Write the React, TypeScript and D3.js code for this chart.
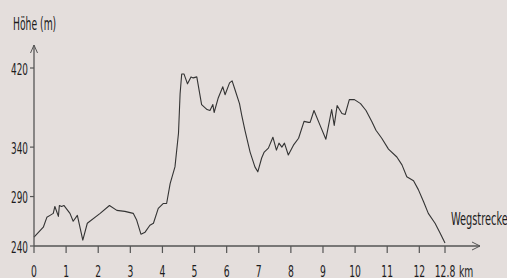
import * as d3 from "d3";

// elevation profile
const distanceKm = [
  0, 0.29, 0.4, 0.5, 0.6, 0.65, 0.76, 0.79, 0.86, 0.93, 1.12, 1.22, 1.35, 1.52,
  1.66, 2.06, 2.35, 2.58, 2.83, 3.09, 3.2, 3.33, 3.46, 3.61, 3.72, 3.87, 4.03,
  4.13, 4.24, 4.39, 4.5, 4.55, 4.6, 4.67, 4.78, 4.89, 4.96, 5.07, 5.22, 5.39,
  5.48, 5.57, 5.61, 5.74, 5.88, 5.95, 6.09, 6.17, 6.26, 6.4, 6.47, 6.57, 6.73,
  6.88, 6.97, 7.09, 7.17, 7.3, 7.44, 7.55, 7.63, 7.72, 7.8, 7.92, 8.08, 8.24,
  8.41, 8.55, 8.6, 8.72, 8.91, 9.09, 9.27, 9.35, 9.44, 9.59, 9.69, 9.82, 9.98,
  10.17, 10.34, 10.52, 10.65, 10.83, 11.04, 11.3, 11.46, 11.61, 11.82, 11.97,
  12.13, 12.28, 12.49, 12.65, 12.8,
];
const elevationM = [
  249, 259, 269, 271, 273, 280, 270, 281, 280, 281, 273, 265, 271, 246, 263, 273,
  281, 276, 275, 273, 266, 252, 254, 261, 263, 278, 283, 283, 303, 320, 354, 394,
  414, 414, 404, 411, 410, 411, 383, 378, 377, 383, 375, 390, 401, 393, 405, 407,
  398, 384, 372, 357, 335, 320, 315, 329, 335, 339, 350, 337, 344, 340, 344, 332,
  342, 349, 366, 365, 365, 377, 362, 348, 378, 362, 382, 374, 373, 388, 388, 384,
  377, 366, 357, 349, 338, 330, 322, 310, 306, 297, 285, 273, 263, 253, 243,
];

const xTicks = [0, 1, 2, 3, 4, 5, 6, 7, 8, 9, 10, 11, 12, 12.8];
const xTickLabels = ["0", "1", "2", "3", "4", "5", "6", "7", "8", "9", "10", "11", "12", "12.8"];
const yTicks = [240, 290, 340, 420];

const FONT = "'DejaVu Sans Condensed', 'DejaVu Sans', sans-serif";

export default function App() {
  const width = 507;
  const height = 278;

  const x = d3.scaleLinear().domain([0, 12.8]).range([34, 445]);
  const y = d3.scaleLinear().domain([240, 420]).range([246, 68]);

  const x0 = x(0);
  const y0 = y(240);

  const points = distanceKm.map((d, i) => [d, elevationM[i]] as [number, number]);
  const line = d3
    .line<[number, number]>()
    .x((d) => x(d[0]))
    .y((d) => y(d[1]));

  const axisColor = "#555";
  const textColor = "#1c1c1c";

  return (
    <svg
      width={width}
      height={height}
      style={{ position: "absolute", left: 0, top: 0, display: "block" }}
      fontFamily={FONT}
    >
      <rect width={width} height={height} fill="#e4dedc" />

      {/* profile line */}
      <path d={line(points) || ""} fill="none" stroke="#333" strokeWidth={1.1} strokeLinejoin="round" />

      {/* y axis */}
      <line x1={x0} y1={y0} x2={x0} y2={45} stroke={axisColor} strokeWidth={1.3} />
      <path d={`M${x0 - 3.5},${53} L${x0},${45} L${x0 + 3.5},${53}`} fill="none" stroke={axisColor} strokeWidth={1} />
      {yTicks.map((t) => (
        <g key={t}>
          <line x1={x0 - 4} x2={x0} y1={y(t)} y2={y(t)} stroke={axisColor} strokeWidth={1.2} />
          <text
            transform={`translate(${x0 - 6},${y(t) + 6.5}) scale(0.66,1)`}
            textAnchor="end"
            fontSize={15}
            fill={textColor}
          >
            {t}
          </text>
        </g>
      ))}

      {/* x axis */}
      <line x1={x0} y1={y0} x2={480} y2={y0} stroke={axisColor} strokeWidth={1.3} />
      <path d={`M${472},${y0 - 4} L${480},${y0} L${472},${y0 + 4}`} fill="none" stroke={axisColor} strokeWidth={1} />
      {xTicks.map((t, i) => (
        <g key={t}>
          <line x1={x(t)} x2={x(t)} y1={y0} y2={y0 + 7} stroke={axisColor} strokeWidth={1.2} />
          <text
            transform={`translate(${x(t)},276.5) scale(0.64,1)`}
            textAnchor="middle"
            fontSize={16}
            fill={textColor}
          >
            {xTickLabels[i]}
          </text>
        </g>
      ))}
      <text transform={`translate(${x(12.8) + 14},276.5) scale(0.64,1)`} fontSize={16} fill={textColor}>
        km
      </text>

      {/* axis titles */}
      <text transform="translate(13,30) scale(0.57,1)" fontSize={18} fill={textColor}>
        Höhe (m)
      </text>
      <text transform="translate(451,225) scale(0.64,1)" fontSize={17} fill={textColor}>
        Wegstrecke
      </text>
    </svg>
  );
}
